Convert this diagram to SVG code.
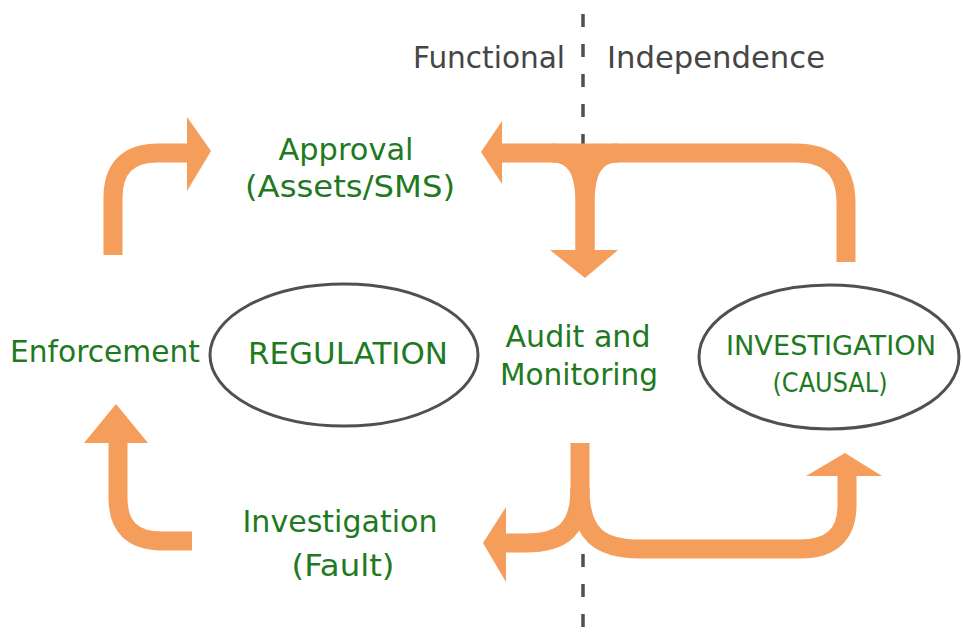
<svg xmlns="http://www.w3.org/2000/svg" width="963" height="644" viewBox="0 0 963 644">
<style>
.lbl{font-family:"DejaVu Sans","Liberation Sans",sans-serif;fill:#1f7a1f;text-anchor:middle}
.hdr{font-family:"DejaVu Sans","Liberation Sans",sans-serif;fill:#454545;text-anchor:middle;font-size:31px}
.ell{fill:none;stroke:#505050;stroke-width:3}
.arr{fill:none;stroke:#F59D5B;stroke-width:19}
.head{fill:#F59D5B}
.div{stroke:#505050;stroke-width:3.5;stroke-dasharray:13 17}
</style>
<rect width="963" height="644" fill="#ffffff"/>
<g id="divider">
<line class="div" x1="583" y1="14" x2="583" y2="150"/>
<line class="div" x1="583" y1="554" x2="583" y2="644"/>
<text class="hdr" x="489" y="68" textLength="152" lengthAdjust="spacingAndGlyphs">Functional</text>
<text class="hdr" x="716" y="68" textLength="218" lengthAdjust="spacingAndGlyphs">Independence</text>
</g>
<g id="connectors">
<path class="arr" d="M113,255 V198 Q113,153 158,153 H190"/>
<polygon class="head" points="187,117 211,151 187,191"/>
<path class="arr" d="M552,153 C577,153 585,172 585,205 V252"/>
<path class="arr" d="M618,153 C593,153 585,172 585,205 V252"/>
<path class="arr" d="M846,262 V203 Q846,153 796,153 H500"/>
<polygon class="head" points="502,121 481,152 502,184"/>
<polygon class="head" points="550,250 585,278 618,250"/>
<path class="arr" d="M192,541 H162 Q118,541 118,498 V441"/>
<polygon class="head" points="84,443 116,404 148,443"/>
<path class="arr" d="M580,443 V495"/>
<path class="arr" d="M580,488 C580,530 562,543 525,543 H503"/>
<polygon class="head" points="506,507 483,543 506,582"/>
<path class="arr" d="M580,488 C580,535 600,549 640,549 H800 Q847,549 847,505 V473"/>
<polygon class="head" points="806,476 845,453 882,476"/>
</g>
<g id="regulation">
<ellipse class="ell" cx="344" cy="355" rx="134" ry="71"/>
<text class="lbl" x="348" y="364" font-size="31" textLength="200" lengthAdjust="spacingAndGlyphs">REGULATION</text>
</g>
<g id="investigation-causal">
<ellipse class="ell" cx="829" cy="357" rx="130" ry="72"/>
<text class="lbl" x="831" y="355" font-size="26" textLength="210" lengthAdjust="spacingAndGlyphs">INVESTIGATION</text>
<text class="lbl" x="830" y="392" font-size="27" textLength="115" lengthAdjust="spacingAndGlyphs">(CAUSAL)</text>
</g>
<g id="approval">
<text class="lbl" x="346" y="160" font-size="31" textLength="135" lengthAdjust="spacingAndGlyphs">Approval</text>
<text class="lbl" x="350" y="197" font-size="31" textLength="210" lengthAdjust="spacingAndGlyphs">(Assets/SMS)</text>
</g>
<g id="enforcement">
<text class="lbl" x="105" y="362" font-size="31" textLength="190" lengthAdjust="spacingAndGlyphs">Enforcement</text>
</g>
<g id="audit">
<text class="lbl" x="578" y="347" font-size="31" textLength="145" lengthAdjust="spacingAndGlyphs">Audit and</text>
<text class="lbl" x="579" y="385" font-size="31" textLength="158" lengthAdjust="spacingAndGlyphs">Monitoring</text>
</g>
<g id="investigation-fault">
<text class="lbl" x="340" y="532" font-size="31" textLength="195" lengthAdjust="spacingAndGlyphs">Investigation</text>
<text class="lbl" x="343" y="576" font-size="31" textLength="103" lengthAdjust="spacingAndGlyphs">(Fault)</text>
</g>
</svg>
